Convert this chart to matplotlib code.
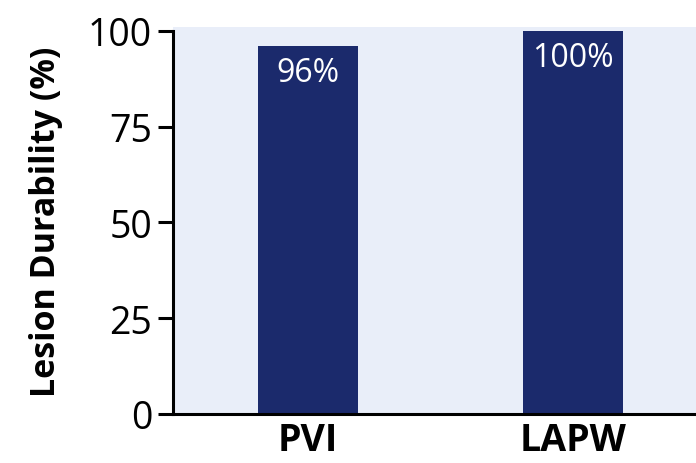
import matplotlib.pyplot as plt
import matplotlib as mpl

mpl.rcParams['font.family'] = ['Open Sans', 'DejaVu Sans']

# lesion durability per ablation target
categories = ["PVI", "LAPW"]
durability = [96, 100]
labels = ["96%", "100%"]
yticks = [0, 25, 50, 75, 100]

bar_color = "#1b2a6c"
bg_color = "#e9eef9"

fig = plt.figure(figsize=(6.96, 4.64), dpi=100)
ax = fig.add_axes([173 / 696, 49 / 464, 1 - 173 / 696, 387 / 464])
ax.set_facecolor(bg_color)

x = range(len(categories))
bars = ax.bar(x, durability, width=0.377, color=bar_color, zorder=2)

for rect, txt in zip(bars, labels):
    ax.annotate(txt, (rect.get_x() + rect.get_width() / 2, rect.get_height()),
                xytext=(0, -19), textcoords="offset points",
                ha="center", va="center", color="white", fontsize=23)

ax.set_xlim(-0.507, 1.463)
ax.set_ylim(0, 101)
ax.set_yticks(yticks)
ax.set_xticks(list(x))
ax.set_xticklabels(categories, fontsize=27, fontweight="bold")
ax.tick_params(axis="y", labelsize=27, length=11, width=2.2, pad=4)
ax.tick_params(axis="x", length=0, pad=5)

for side in ["top", "right"]:
    ax.spines[side].set_visible(False)
for side in ["left", "bottom"]:
    ax.spines[side].set_linewidth(2.2)
ax.spines["left"].set_bounds(0, 100)

ax.set_ylabel("Lesion Durability (%)", fontsize=24.5, fontweight="bold", labelpad=18)

fig.savefig("out.png", dpi=100)
